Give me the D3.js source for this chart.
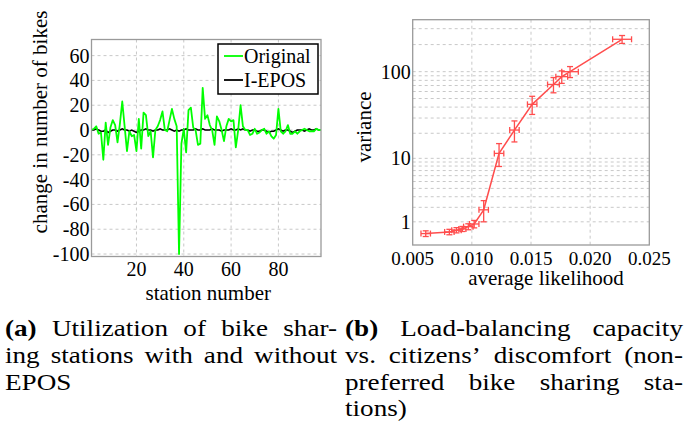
<!DOCTYPE html>
<html><head><meta charset="utf-8">
<script src="https://cdn.jsdelivr.net/npm/d3@7"></script>
<style>body{margin:0;background:#fff}svg{display:block}</style>
</head><body>
<svg id="c" width="685" height="429"></svg>
<script>
// ---------- data: left chart ----------
const origValues = [0,1,3,-3,-2,-24,6,-12,2,8,4,-10,5,23,3,-17,-1,-5,-4,-17,9,-15,14,12,-5,-1,-22,0,3,8,15,0,-1,8,17,9,3,-100,-11,1,-18,16,18,2,0,-12,-11,34,9,12,4,0,-12,11,7,0,-9,3,9,7,8,-14,0,20,3,0,0,-4,-3,1,-3,-2,0,1,-3,-1,-5,-7,-4,17,-1,-3,-1,4,-3,-3,-1,-3,-1,0,1,0,-1,-1,-1,1,0,0];
const iEposValues = [0,0,1,0,-1,-1,0,-2,-1,0,0,-1,0,1,0,0,-1,0,-1,-2,-1,0,0,1,0,0,-1,0,0,1,0,0,0,1,0,-1,0,-1,0,0,1,0,0,0,1,0,0,1,0,0,0,1,0,0,0,-1,0,0,0,1,0,0,1,0,1,0,0,-1,0,0,-1,-1,0,0,-1,-2,-1,-1,0,1,0,-1,0,0,-1,-2,-1,0,0,0,-1,0,1,0,0,1,0,0];
const leftXTicks = [20,40,60,80];
const leftYTicks = [60,40,20,0,-20,-40,-60,-80,-100];
const legendLabels = ["Original","I-EPOS"];

// ---------- data: right chart ----------
const likelihood = [0.0061,0.0081,0.0087,0.0092,0.0097,0.0102,0.0110,0.0123,0.0136,0.0151,0.0169,0.0176,0.0183,0.0227];
const variance   = [0.42,0.49,0.57,0.63,0.74,0.88,1.8,11.5,21.8,43,72,88,100,229];
const likeErr    = [0.0004,0.0004,0.0004,0.0003,0.0004,0.0004,0.0004,0.0004,0.0004,0.0004,0.0005,0.0005,0.0007,0.0008];
const varErr     = [0.12,0.12,0.12,0.12,0.15,0.2,0.8,3.6,6,10,14,14,14,23];
const rightXTicks = [0.005,0.010,0.015,0.020,0.025];
const rightYTicks = [1,10,100];
const rightYMinor = [2,3,4,5,6,7,8,9,20,30,40,50,60,70,80,90,200,300];

// ---------- captions ----------
const captionA = [
  [{t:"(a)",b:true},{t:"Utilization"},{t:"of"},{t:"bike"},{t:"shar-"}],
  [{t:"ing"},{t:"stations"},{t:"with"},{t:"and"},{t:"without"}],
  [{t:"EPOS"}]
];
const captionB = [
  [{t:"(b)",b:true},{t:"Load-balancing"},{t:"capacity"}],
  [{t:"vs."},{t:"citizens’"},{t:"discomfort"},{t:"(non-"}],
  [{t:"preferred"},{t:"bike"},{t:"sharing"},{t:"sta-"}],
  [{t:"tions)"}]
];

const FONT = "'Liberation Serif'";
const svg = d3.select("#c");
const gridColor = "#c8c8c8", frameColor = "#9a9a9a";
const tickFont = 20, labelFont = 21, rTickFont = 19;
function txt(g){ return g.append("text").attr("font-family",FONT).attr("fill","#000"); }

// ================= LEFT CHART =================
const L = {x0:91.5, x1:321, y0:39.5, y1:256.5};
const lx = d3.scaleLinear().domain([1,98]).range([L.x0,L.x1]);
const ly = d3.scaleLinear().domain([-102,73]).range([L.y1,L.y0]);
const gl = svg.append("g");
gl.selectAll(".gy").data(leftYTicks).join("line")
  .attr("x1",L.x0).attr("x2",L.x1).attr("y1",d=>ly(d)).attr("y2",d=>ly(d))
  .attr("stroke",gridColor).attr("stroke-dasharray","3,3").attr("stroke-width",1);
gl.selectAll(".gx").data(leftXTicks).join("line")
  .attr("y1",L.y0).attr("y2",L.y1).attr("x1",d=>lx(d)).attr("x2",d=>lx(d))
  .attr("stroke",gridColor).attr("stroke-dasharray","3,3").attr("stroke-width",1);
gl.append("defs").append("clipPath").attr("id","clipL").append("rect")
  .attr("x",L.x0).attr("y",L.y0).attr("width",L.x1-L.x0).attr("height",L.y1-L.y0);
const lineL = d3.line().x((d,i)=>lx(i+1)).y(d=>ly(d));
gl.append("path").datum(iEposValues).attr("d",lineL).attr("fill","none")
  .attr("stroke","#000").attr("stroke-width",1.5).attr("clip-path","url(#clipL)");
gl.append("path").datum(origValues).attr("d",lineL).attr("fill","none")
  .attr("stroke","#00ff00").attr("stroke-width",1.8).attr("stroke-linejoin","round").attr("clip-path","url(#clipL)");
gl.append("rect").attr("x",L.x0).attr("y",L.y0).attr("width",L.x1-L.x0).attr("height",L.y1-L.y0)
  .attr("fill","none").attr("stroke",frameColor).attr("stroke-width",1.3);
leftYTicks.forEach(d=>{
  txt(gl).attr("x",L.x0-2).attr("y",ly(d)).attr("dy","0.35em").attr("text-anchor","end")
    .attr("font-size",tickFont).text(String(d));
});
leftXTicks.forEach(d=>{
  txt(gl).attr("x",lx(d)).attr("y",276).attr("text-anchor","middle")
    .attr("font-size",tickFont).text(String(d));
});
txt(gl).attr("x",(L.x0+L.x1)/2+2).attr("y",300).attr("text-anchor","middle")
  .attr("font-size",labelFont).text("station number");
txt(gl).attr("transform","translate(47,122) rotate(-90)").attr("text-anchor","middle")
  .attr("font-size",labelFont).text("change in number of bikes");
// legend
const lg = gl.append("g");
lg.append("rect").attr("x",218).attr("y",44).attr("width",100).attr("height",50)
  .attr("fill","#fff").attr("stroke","#000").attr("stroke-width",1.5);
const legColors = ["#00ff00","#000"];
legendLabels.forEach((t,i)=>{
  const yy = 56 + i*24;
  lg.append("line").attr("x1",224).attr("x2",243).attr("y1",yy).attr("y2",yy)
    .attr("stroke",legColors[i]).attr("stroke-width",1.8);
  txt(lg).attr("x",244).attr("y",yy).attr("dy","0.35em").attr("font-size",tickFont).text(t);
});

// ================= RIGHT CHART =================
const R = {x0:412.7, x1:649.3, y0:19.7, y1:245};
const rx = d3.scaleLinear().domain([0.005,0.025]).range([R.x0,R.x1]);
const ry = d3.scaleSymlog().constant(1.25).domain([0,377]).range([R.y1,R.y0]);
const gr = svg.append("g");
gr.selectAll(".gmy").data(rightYMinor.concat(rightYTicks)).join("line")
  .attr("x1",R.x0).attr("x2",R.x1).attr("y1",d=>ry(d)).attr("y2",d=>ry(d))
  .attr("stroke",gridColor).attr("stroke-dasharray","3,3").attr("stroke-width",1);
gr.selectAll(".gx").data(rightXTicks.slice(1,-1)).join("line")
  .attr("y1",R.y0).attr("y2",R.y1).attr("x1",d=>rx(d)).attr("x2",d=>rx(d))
  .attr("stroke",gridColor).attr("stroke-dasharray","3,3").attr("stroke-width",1);
const red = "#ff4d4d";
const pts = likelihood.map((l,i)=>({l, v:variance[i], xe:likeErr[i], ye:varErr[i]}));
gr.append("path").datum(pts).attr("d",d3.line().x(d=>rx(d.l)).y(d=>ry(d.v)))
  .attr("fill","none").attr("stroke",red).attr("stroke-width",1.5);
const eb = gr.selectAll(".eb").data(pts).join("g");
const cap = 3;
eb.append("line").attr("x1",d=>rx(d.l-d.xe)).attr("x2",d=>rx(d.l+d.xe)).attr("y1",d=>ry(d.v)).attr("y2",d=>ry(d.v));
eb.append("line").attr("x1",d=>rx(d.l-d.xe)).attr("x2",d=>rx(d.l-d.xe)).attr("y1",d=>ry(d.v)-cap).attr("y2",d=>ry(d.v)+cap);
eb.append("line").attr("x1",d=>rx(d.l+d.xe)).attr("x2",d=>rx(d.l+d.xe)).attr("y1",d=>ry(d.v)-cap).attr("y2",d=>ry(d.v)+cap);
eb.append("line").attr("x1",d=>rx(d.l)).attr("x2",d=>rx(d.l)).attr("y1",d=>ry(Math.max(0,d.v-d.ye))).attr("y2",d=>ry(d.v+d.ye));
eb.append("line").attr("x1",d=>rx(d.l)-cap).attr("x2",d=>rx(d.l)+cap).attr("y1",d=>ry(Math.max(0,d.v-d.ye))).attr("y2",d=>ry(Math.max(0,d.v-d.ye)));
eb.append("line").attr("x1",d=>rx(d.l)-cap).attr("x2",d=>rx(d.l)+cap).attr("y1",d=>ry(d.v+d.ye)).attr("y2",d=>ry(d.v+d.ye));
eb.selectAll("line").attr("stroke",red).attr("stroke-width",1.3);
gr.append("rect").attr("x",R.x0).attr("y",R.y0).attr("width",R.x1-R.x0).attr("height",R.y1-R.y0)
  .attr("fill","none").attr("stroke",frameColor).attr("stroke-width",1.3);
rightYTicks.forEach(d=>{
  txt(gr).attr("x",R.x0-2).attr("y",ry(d)).attr("dy","0.35em").attr("text-anchor","end")
    .attr("font-size",tickFont).text(String(d));
});
rightXTicks.forEach(d=>{
  txt(gr).attr("x",rx(d)).attr("y",265).attr("text-anchor","middle")
    .attr("font-size",rTickFont).text(d3.format(".3f")(d));
});
txt(gr).attr("x",546).attr("y",285).attr("text-anchor","middle")
  .attr("font-size",labelFont).text("average likelihood");
txt(gr).attr("transform","translate(371,127) rotate(-90)").attr("text-anchor","middle")
  .attr("font-size",labelFont).text("variance");

// ================= CAPTIONS =================
const capBase = [336,363,390,416];
const capFont = 23;
// slight horizontal glyph stretch so the serif text approaches the wider Computer Modern look
const probe = txt(svg).attr("font-size",capFont).text("ingstationswithandwithout");
const probeW = probe.node().getComputedTextLength(); probe.remove();
const stretch = Math.max(1, Math.min(1.18, (332 - 4*0.33*capFont)/probeW));
function drawCaption(lines, xStart, xEnd){
  lines.forEach((words,li)=>{
    const g = svg.append("g");
    const nodes = words.map(w=>txt(g).attr("y",capBase[li]).attr("font-size",capFont)
      .attr("font-weight",w.b?"bold":"normal").text(w.t));
    const widths = nodes.map(n=>n.node().getComputedTextLength()*stretch);
    nodes.forEach((n,i)=>n.attr("textLength",widths[i]).attr("lengthAdjust","spacingAndGlyphs"));
    const justify = li < lines.length-1 && words.length>1;
    const total = d3.sum(widths);
    const gap = justify ? (xEnd-xStart-total)/(words.length-1) : capFont*0.33;
    let x = xStart;
    nodes.forEach((n,i)=>{ n.attr("x",x); x += widths[i]+gap; });
  });
}
drawCaption(captionA, 5, 337);
drawCaption(captionB, 345, 683);
</script>
</body></html>
